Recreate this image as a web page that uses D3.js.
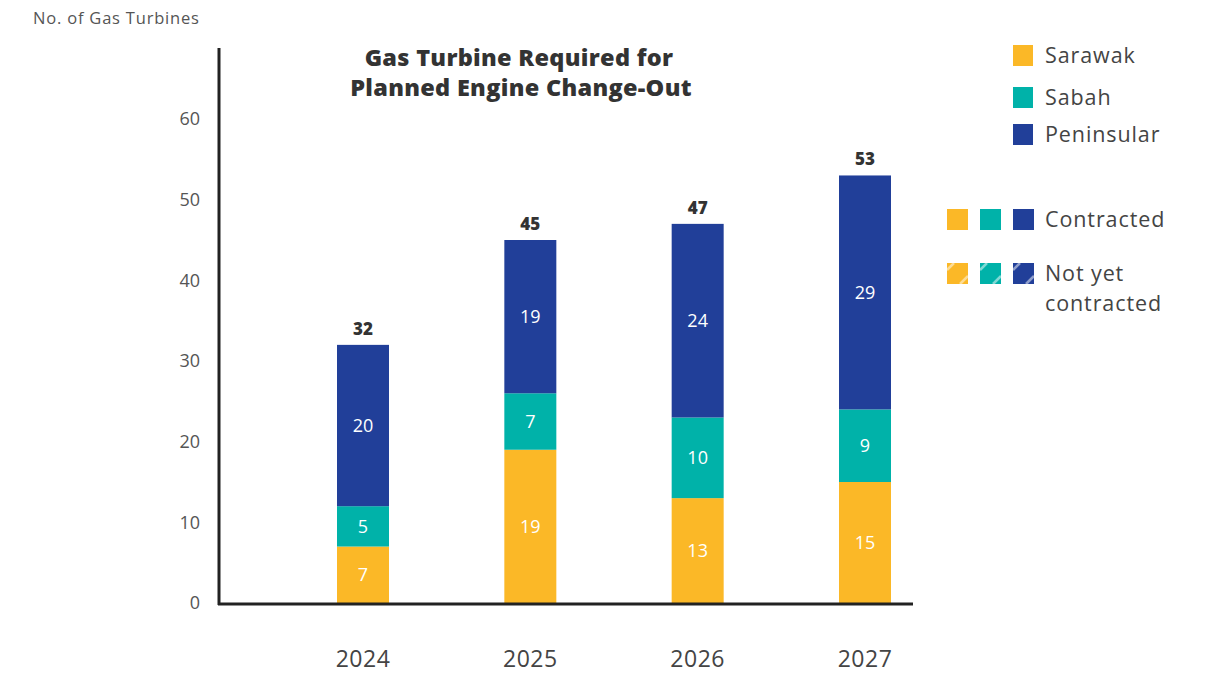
<!DOCTYPE html>
<html>
<head>
<meta charset="utf-8">
<script src="https://cdn.jsdelivr.net/npm/d3@7"></script>
<style>
  html, body { margin: 0; padding: 0; background: #fff; }
  svg { display: block; font-family: "Open Sans", Lato, sans-serif; }
</style>
</head>
<body>
<svg id="chart" width="1208" height="674"></svg>
<script>
const years = ["2024", "2025", "2026", "2027"];
const regions = ["Sarawak", "Sabah", "Peninsular"];
const sarawak = [7, 19, 13, 15];
const sabah = [5, 7, 10, 9];
const peninsular = [20, 19, 24, 29];
const yTicks = [0, 10, 20, 30, 40, 50, 60];
const colors = ["#FBB827", "#00B2A9", "#213F99"];
const statusLabels = [["Contracted"], ["Not yet", "contracted"]];

const svg = d3.select("#chart");
const series = [sarawak, sabah, peninsular];

const x = d3.scalePoint().domain(years).range([363, 865]);
const y = d3.scaleLinear().domain([0, 60]).range([603, 119]);
const barW = 52;

const rows = years.map((yr, i) => {
  const o = { year: yr };
  regions.forEach((r, k) => o[r] = series[k][i]);
  return o;
});
const stacked = d3.stack().keys(regions)(rows);
const totals = years.map((_, i) => d3.sum(series, s => s[i]));

// y-axis title
svg.append("text").attr("x", 33).attr("y", 24)
  .attr("font-size", 16.5).attr("letter-spacing", 0.8).attr("fill", "#555").text("No. of Gas Turbines");

// tick labels
svg.append("g").selectAll("text").data(yTicks).join("text")
  .attr("x", 200).attr("y", d => y(d)).attr("dy", "0.35em")
  .attr("text-anchor", "end").attr("font-size", 18).attr("fill", "#555")
  .text(d => d);

// bars
stacked.forEach((layer, k) => {
  svg.append("g").selectAll("rect").data(layer).join("rect")
    .attr("x", d => x(d.data.year) - barW / 2)
    .attr("width", barW)
    .attr("y", d => y(d[1]))
    .attr("height", d => y(d[0]) - y(d[1]))
    .attr("fill", colors[k]);
  svg.append("g").selectAll("text").data(layer).join("text")
    .attr("x", d => x(d.data.year))
    .attr("y", d => (y(d[0]) + y(d[1])) / 2)
    .attr("dy", "0.35em").attr("text-anchor", "middle")
    .attr("font-size", 18).attr("fill", "#fff")
    .text(d => d[1] - d[0]);
});

// totals
svg.append("g").selectAll("text").data(years).join("text")
  .attr("x", d => x(d)).attr("y", (d, i) => y(totals[i]) - 10)
  .attr("text-anchor", "middle").attr("font-size", 17).attr("font-weight", "800")
  .attr("fill", "#333").text((d, i) => totals[i]);

// axes lines
svg.append("line").attr("x1", 219).attr("x2", 219).attr("y1", 48).attr("y2", 605)
  .attr("stroke", "#222").attr("stroke-width", 3);
svg.append("line").attr("x1", 218).attr("x2", 913).attr("y1", 604).attr("y2", 604)
  .attr("stroke", "#222").attr("stroke-width", 3);

// year labels
svg.append("g").selectAll("text").data(years).join("text")
  .attr("x", d => x(d)).attr("y", 667)
  .attr("text-anchor", "middle").attr("font-size", 23).attr("letter-spacing", 0.5).attr("fill", "#444")
  .text(d => d);

// title
const title = svg.append("text").attr("text-anchor", "middle")
  .attr("font-size", 23.5).attr("font-weight", "800").attr("letter-spacing", 0.3).attr("fill", "#333");
title.append("tspan").attr("x", 519).attr("y", 66).text("Gas Turbine Required for");
title.append("tspan").attr("x", 521).attr("y", 96).text("Planned Engine Change-Out");

// region legend
const leg = svg.append("g");
regions.forEach((r, k) => {
  const yy = [55, 97, 134][k];
  leg.append("rect").attr("x", 1013).attr("y", yy - 10).attr("width", 20).attr("height", 21)
    .attr("fill", colors[k]);
  leg.append("text").attr("x", 1045).attr("y", yy).attr("dy", "0.35em")
    .attr("font-size", 21.5).attr("letter-spacing", 0.9).attr("fill", "#444").text(r);
});

// status legend
[219, 273].forEach((yy, row) => {
  colors.forEach((c, k) => {
    const rx = 947 + k * 33, ry = yy - 10, s = 21;
    leg.append("rect").attr("x", rx).attr("y", ry)
      .attr("width", s).attr("height", s).attr("fill", c);
    if (row === 1) {
      leg.append("line").attr("x1", rx).attr("y1", ry + 7).attr("x2", rx + 7).attr("y2", ry)
        .attr("stroke", "rgba(255,255,255,0.5)").attr("stroke-width", 2.5);
      leg.append("line").attr("x1", rx + 13).attr("y1", ry + s).attr("x2", rx + s).attr("y2", ry + 13)
        .attr("stroke", "rgba(255,255,255,0.5)").attr("stroke-width", 2.5);
    }
  });
  statusLabels[row].forEach((t, j) => {
    leg.append("text").attr("x", 1045).attr("y", yy + j * 30).attr("dy", "0.35em")
      .attr("font-size", 21.5).attr("letter-spacing", 0.9).attr("fill", "#444").text(t);
  });
});
</script>
</body>
</html>
